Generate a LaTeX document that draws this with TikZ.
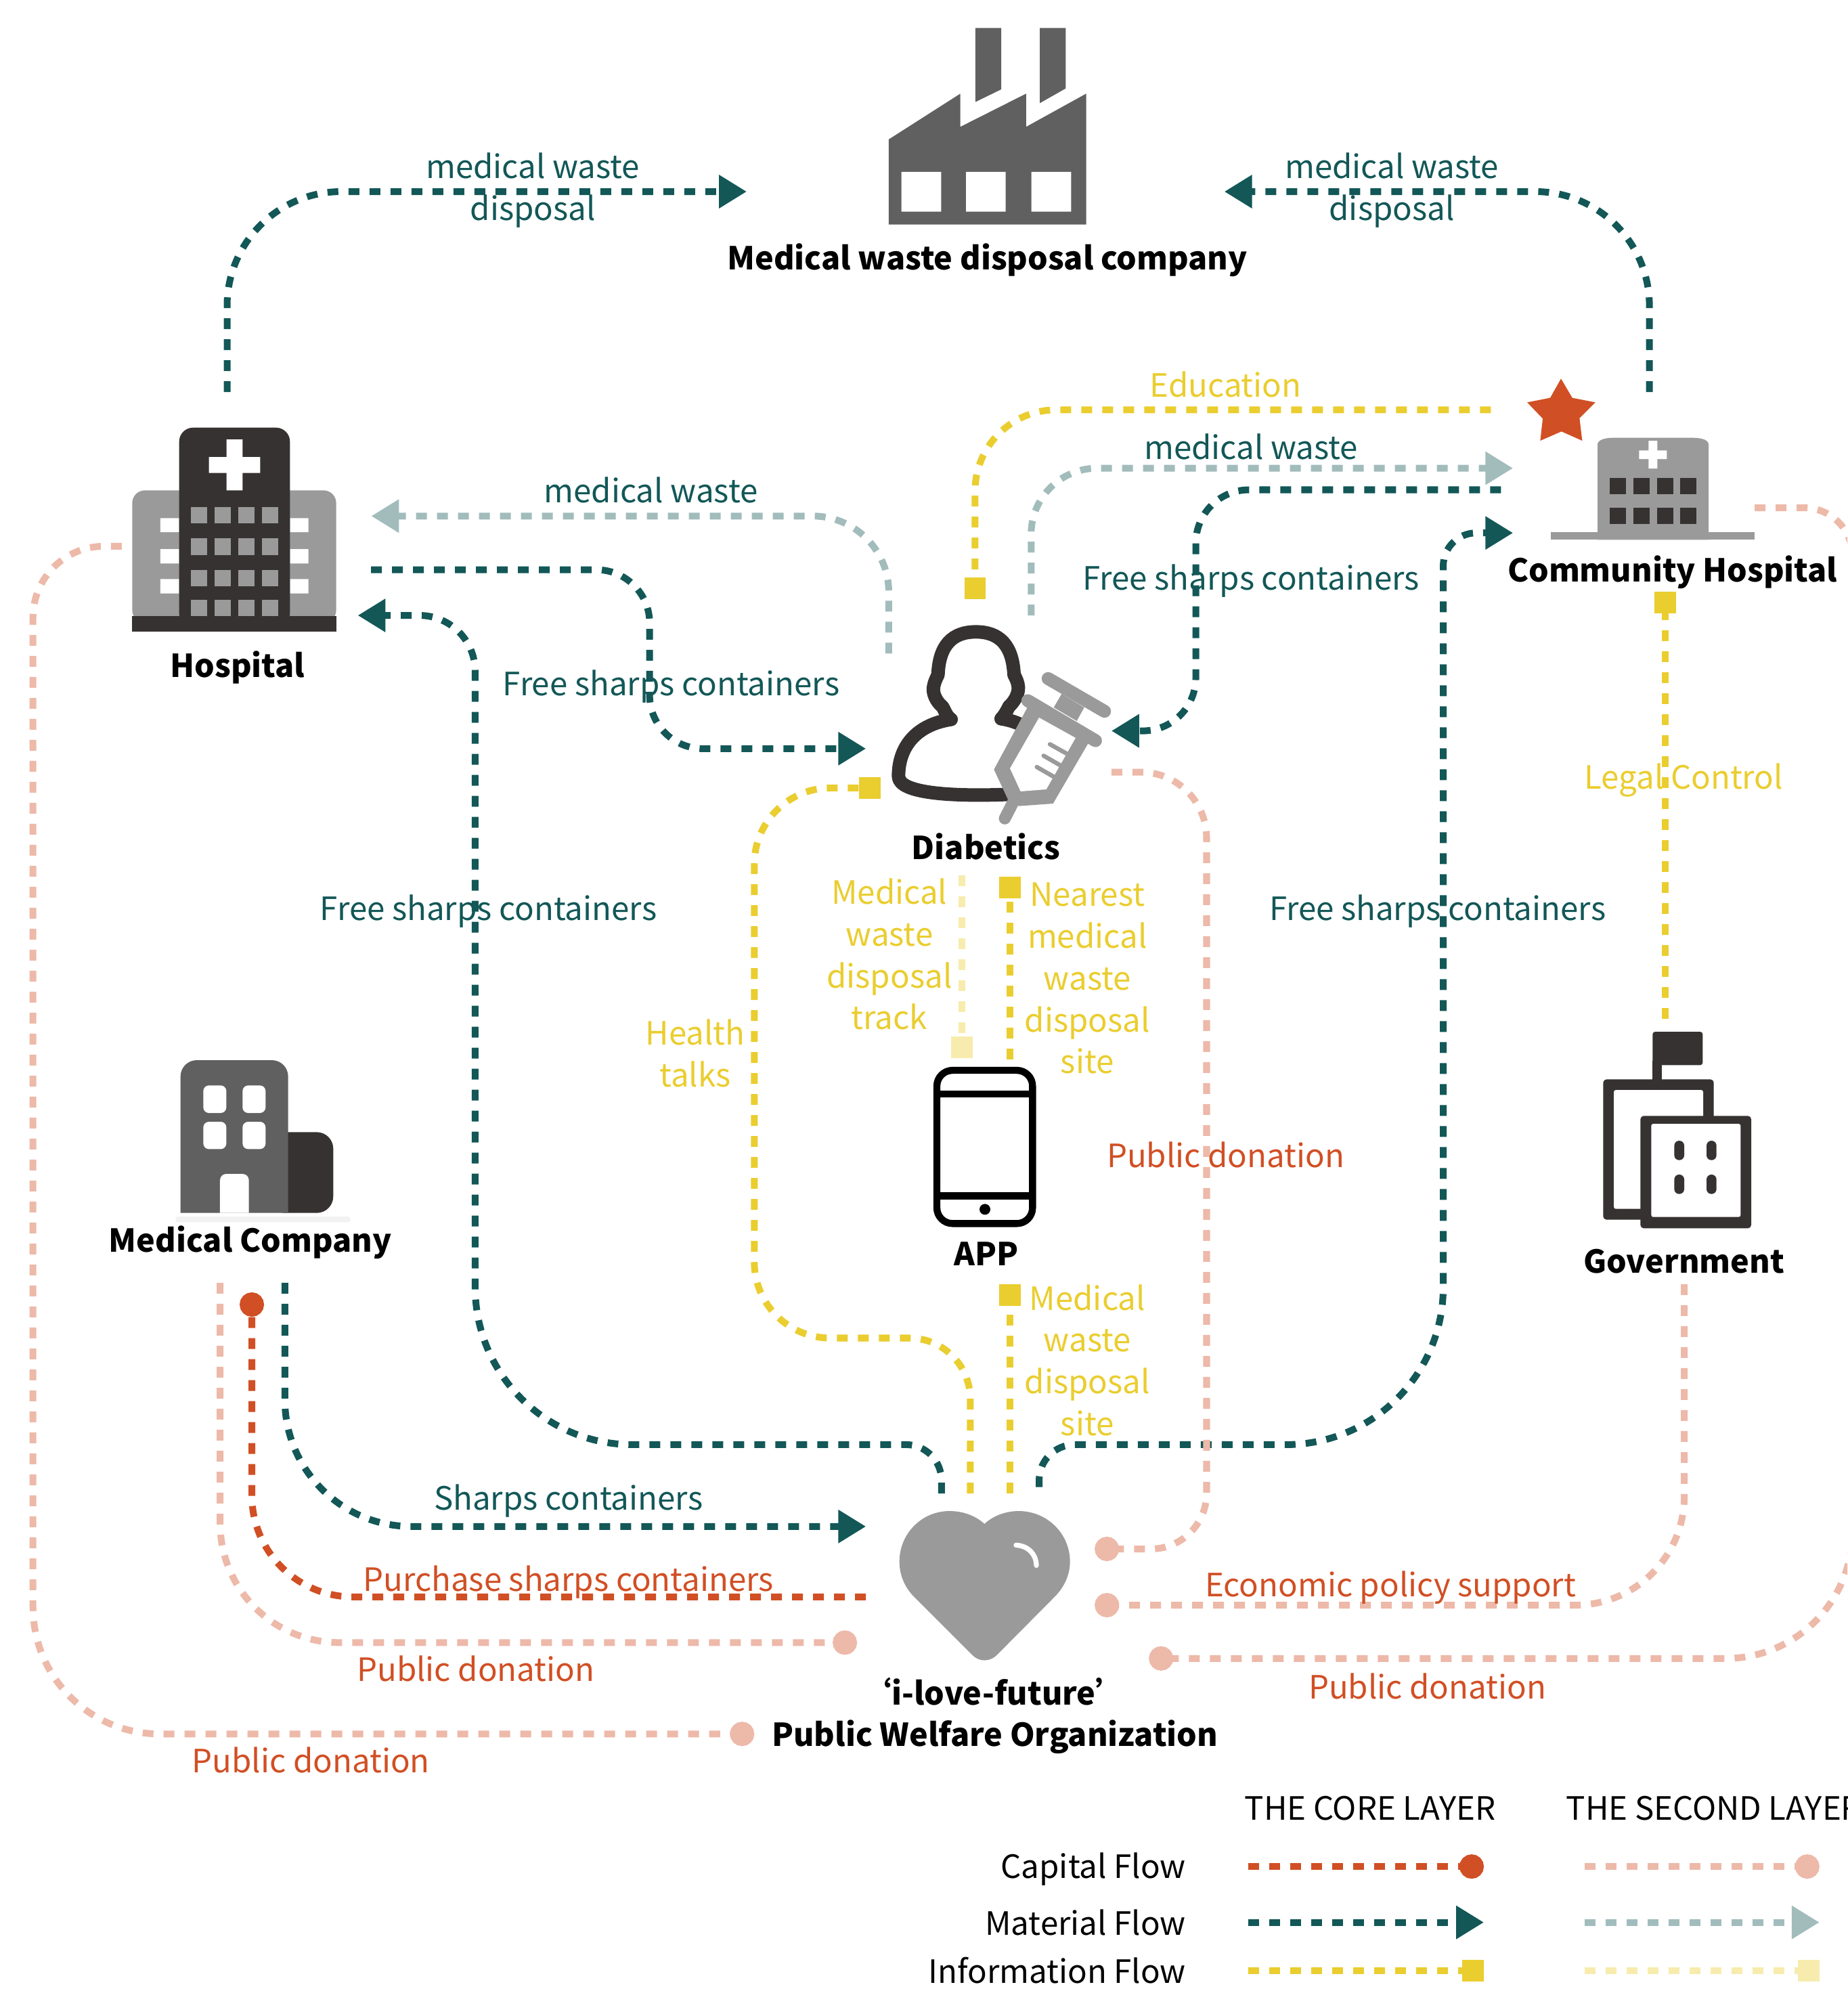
\documentclass[tikz,border=0pt]{standalone}
\usepackage{fontspec}
\setmainfont{Noto Sans CJK SC}
\usetikzlibrary{arrows.meta}
\definecolor{cteal}{HTML}{135757}
\definecolor{lteal}{HTML}{A2BCBC}
\definecolor{cred}{HTML}{D14F24}
\definecolor{lred}{HTML}{EDB9A9}
\definecolor{cyel}{HTML}{EACD2F}
\definecolor{lyel}{HTML}{F7ECAD}
\definecolor{idark}{HTML}{363231}
\definecolor{igrey}{HTML}{9A9A9A}
\definecolor{imid}{HTML}{606060}
\tikzset{
  flow/.style={line width=2.67pt,dash pattern=on 4.27pt off 4pt},
  toarrow/.style={-{Triangle[length=10.9pt,width=12.5pt]}},
  todot/.style={-{Circle[length=9.6pt,width=9.6pt]}},
  tosq/.style={-{Square[length=8.5pt,width=8.5pt]}},
  lab/.style={inner sep=0pt,align=center,xshift=0.5pt,font=\fontsize{12.65pt}{16.5pt}\selectfont},
  ttl/.style={inner sep=0pt,align=center,xshift=0.6pt,font=\fontsize{12.45pt}{16.5pt}\selectfont\bfseries},
  zoomed/.style 2 args={shift={(#1/1.8743,#2/1.8743)},x=0.08892pt,y=-0.08892pt}
}
\begin{document}
\begin{tikzpicture}[x=0.5pt,y=-0.5pt]
\useasboundingbox (0,0) rectangle (1456,1569.1);
\clip (0,0) rectangle (1456,1569.1);

% ---------- icons ----------
% factory
\begin{scope}[zoomed={1250}{0},x=0.10204pt]
\fill[imid] (164,995)--(164,618)--(441,415)--(441,562)--(695,415)--(695,562)--(927,415)--(927,995)--cycle;
\fill[imid] (499,124)--(599,124)--(599,396)--(499,452)--cycle;
\fill[imid] (748,124)--(848,124)--(848,392)--(748,457)--cycle;
\fill[white] (213,762) rectangle (367,938) (463,762) rectangle (616,938) (715,762) rectangle (869,938);
\end{scope}
% hospital
\begin{scope}[zoomed={150}{600}]
\fill[igrey,rounded corners=5pt] (136,960)--(136,373)--(1040,373)--(1040,960)--cycle;
\fill[white] (261,496) rectangle (344,558) (261,633) rectangle (344,697) (261,766) rectangle (344,830);
\fill[white] (835,496) rectangle (917,558) (835,633) rectangle (917,697) (835,766) rectangle (917,830);
\fill[idark,rounded corners=5.5pt] (344,980)--(344,95)--(835,95)--(835,980)--cycle;
\fill[idark] (136,930) rectangle (1040,1000);
\fill[white] (554,147) rectangle (625,373) (476,225) rectangle (703,296);
\foreach \yy/\yb in {446/518,586/659,726/798,858/929}
 \foreach \xx/\xb in {397/468,501/573,606/678,711/783}
  \fill[igrey] (\xx,\yy) rectangle (\xb,\yb);
\end{scope}
% community hospital
\begin{scope}[zoomed={2250}{540}]
\fill[cred] (168,58)--(218,143)--(320,163)--(250,233)--(262,333)--(170,292)--(76,333)--(87,235)--(18,163)--(120,143)--cycle;
\fill[igrey] (330,772)--(330,350) .. controls (330,330) and (360,320) .. (400,320)--(752,320) .. controls (792,320) and (822,330) .. (822,350)--(822,772)--cycle;
\fill[igrey] (123,737) rectangle (1027,772);
\fill[white] (556,333) rectangle (595,456) (514,376) rectangle (637,414);
\foreach \yy/\yb in {498/570,630/702}
 \foreach \xx/\xb in {384/456,489/561,594/666,696/768}
  \fill[idark] (\xx,\yy) rectangle (\xb,\yb);
\end{scope}
% diabetics
\begin{scope}[zoomed={1280}{880}]
\draw[idark,line width=5.33pt,line join=round]
 (640,880) .. controls (400,890) and (142,880) .. (142,800)
 .. controls (142,660) and (230,570) .. (375,548)
 .. controls (350,530) and (345,500) .. (335,490)
 .. controls (310,470) and (290,430) .. (298,400)
 .. controls (302,380) and (310,365) .. (317,350)
 .. controls (322,220) and (380,160) .. (485,160)
 .. controls (590,160) and (648,220) .. (654,350)
 .. controls (662,365) and (672,385) .. (673,405)
 .. controls (675,440) and (650,475) .. (632,490)
 .. controls (622,510) and (612,530) .. (597,545)
 .. controls (630,550) and (670,560) .. (720,590);
\fill[igrey] (716,490)--(565,770)--(628,905)--(677,932)--(827,921)--(985,650)--cycle;
\fill[white] (765,540)--(927,630)--(797,858)--(683,867)--(636,765)--cycle;
\fill[igrey] (865,435)--(965,495)--(932,555)--(830,495)--cycle;
\draw[igrey,line width=5.1pt,line cap=round] (715,465)--(1015,642);
\draw[igrey,line width=5.1pt,line cap=round] (805,367)--(1055,512);
\draw[igrey,line width=4.7pt,line cap=round] (650,915)--(613,987);
\draw[igrey,line width=1.7pt,line cap=round] (813,658)--(888,700) (785,709)--(860,752) (755,759)--(830,802);
\end{scope}
% medical company
\begin{scope}[zoomed={230}{1530}]
\fill[idark,rounded corners=6.5pt] (500,785)--(500,427)--(787,427)--(787,785)--cycle;
\fill[imid] (110,785)--(110,180) arc[start angle=180,end angle=90,x radius=72,y radius=-72] -- (515,108) arc[start angle=90,end angle=0,x radius=72,y radius=-72] -- (587,785)--cycle;
\fill[white,rounded corners=2.2pt] (211,220) rectangle (313,342) (385,220) rectangle (487,342) (211,381) rectangle (313,502) (385,381) rectangle (487,502);
\fill[white] (285,785)--(285,640) arc[start angle=180,end angle=90,x radius=28,y radius=-28] -- (385,612) arc[start angle=90,end angle=0,x radius=28,y radius=-28] -- (413,785)--cycle;
\fill[black!5,rounded corners=1pt] (88,801) rectangle (863,827);
\end{scope}
% government
\begin{scope}[zoomed={2340}{1500}]
\fill[idark,rounded corners=1pt] (304,72) rectangle (526,220);
\fill[idark] (304,200) rectangle (346,300);
\fill[idark,rounded corners=1.3pt] (85,283) rectangle (575,905);
\fill[white,rounded corners=.8pt] (132,330) rectangle (528,857);
\fill[idark,rounded corners=1.3pt] (250,445) rectangle (741,943);
\fill[white,rounded corners=.8pt] (298,480) rectangle (694,893);
\fill[idark,rounded corners=1.9pt] (400,555) rectangle (444,641) (543,555) rectangle (587,641) (400,705) rectangle (444,791) (543,705) rectangle (587,791);
\end{scope}
% app
\begin{scope}[zoomed={1340}{1530}]
\draw[black,line width=2.76pt,rounded corners=6.2pt] (132,153) rectangle (556,832);
\draw[black,line width=2.76pt] (132,258)--(556,258) (132,709)--(556,709);
\fill[black] (345,769) circle[radius=24];
\end{scope}
% heart
\begin{scope}[zoomed={1280}{2180}]
\fill[igrey] (523,213) .. controls (485,178) and (430,156) .. (368,156) .. controls (245,156) and (146,256) .. (146,380) .. controls (146,440) and (170,495) .. (210,535) -- (470,795) .. controls (500,825) and (546,825) .. (577,795) -- (835,535) .. controls (875,495) and (902,440) .. (902,380) .. controls (902,256) and (800,156) .. (675,156) .. controls (615,156) and (560,178) .. (523,213) -- cycle;
\draw[white,line width=1.95pt,line cap=round] (663,307) .. controls (715,310) and (752,345) .. (753,397);
\end{scope}

% ---------- connector ends ----------
\coordinate (hospTop) at (179,309);
\coordinate (compL) at (588.5,151);
\coordinate (chTop) at (1300,309);
\coordinate (compR) at (965,151);
\coordinate (hospOut) at (292.4,449);
\coordinate (diaL) at (682.5,590);
\coordinate (chOut) at (1183,386);
\coordinate (diaR) at (876,576);
\coordinate (orgA) at (742,1177);
\coordinate (hospIn) at (282,485);
\coordinate (orgB) at (819,1172);
\coordinate (chIn) at (1192.5,420);
\coordinate (mcTeal) at (224.5,1011);
\coordinate (orgSharps) at (682.5,1203);
\coordinate (diaTopL) at (700.5,515);
\coordinate (hospMw) at (292.6,406.7);
\coordinate (diaTopR) at (812.7,485);
\coordinate (chMw) at (1192.5,369);
\coordinate (chEdu) at (1175,323);
\coordinate (diaEdu) at (768.5,472);
\coordinate (orgH) at (764.7,1177);
\coordinate (diaH) at (694,621);
\coordinate (gov) at (1312.5,803);
\coordinate (chLegal) at (1312.5,466.3);
\coordinate (diaTrack) at (758,690);
\coordinate (appTrack) at (758,834);
\coordinate (appNear) at (796,835);
\coordinate (diaNear) at (796,691);
\coordinate (orgM) at (796,1177);
\coordinate (appM) at (796,1012);
\coordinate (orgBuy) at (682.5,1258.5);
\coordinate (mcRed) at (198.5,1018.5);
\coordinate (mcDon) at (173.5,1011);
\coordinate (orgD1) at (675.5,1294.5);
\coordinate (hospDon) at (96,430.5);
\coordinate (orgD2) at (594.5,1366.5);
\coordinate (diaDon) at (876,608.5);
\coordinate (orgD3) at (862.8,1220.7);
\coordinate (govDon) at (1327.5,1012);
\coordinate (orgD4) at (862.8,1265);
\coordinate (chDon) at (1383,400.2);
\coordinate (orgD5) at (905.5,1307);

% ---------- connectors ----------
\draw[flow,toarrow,cteal,rounded corners=45pt] (hospTop)--(179,151)--(compL);
\draw[flow,toarrow,cteal,rounded corners=45pt] (chTop)--(1300,151)--(compR);
\draw[flow,toarrow,cteal,rounded corners=21pt] (hospOut)--(512,449)--(512,590)--(diaL);
\draw[flow,toarrow,cteal,rounded corners=21pt] (chOut)--(942.5,386)--(942.5,576)--(diaR);
\draw[flow,toarrow,cteal] (orgA) [rounded corners=14pt] --(742,1138.5) [rounded corners=62pt] --(374.5,1138.5) [rounded corners=22pt] --(374.5,485)--(hospIn);
\draw[flow,toarrow,cteal] (orgB) [rounded corners=14pt] --(819,1138.5) [rounded corners=62pt] --(1137.5,1138.5) [rounded corners=13pt] --(1137.5,420)--(chIn);
\draw[flow,toarrow,cteal,rounded corners=50pt] (mcTeal)--(224.5,1203)--(orgSharps);
\draw[flow,toarrow,lteal,rounded corners=30pt] (diaTopL)--(700.5,406.7)--(hospMw);
\draw[flow,toarrow,lteal,rounded corners=26pt] (diaTopR)--(812.7,369)--(chMw);
\draw[flow,tosq,cyel,rounded corners=32pt] (chEdu)--(768.5,323)--(diaEdu);
\draw[flow,tosq,cyel] (orgH) [rounded corners=24pt] --(764.7,1054.5) [rounded corners=30pt] --(594.5,1054.5) --(594.5,621)--(diaH);
\draw[flow,tosq,cyel] (gov)--(chLegal);
\draw[flow,tosq,lyel] (diaTrack)--(appTrack);
\draw[flow,tosq,cyel] (appNear)--(diaNear);
\draw[flow,tosq,cyel] (orgM)--(appM);
\draw[flow,todot,cred,rounded corners=40pt] (orgBuy)--(198.5,1258.5)--(mcRed);
\draw[flow,todot,lred,rounded corners=47pt] (mcDon)--(173.5,1294.5)--(orgD1);
\draw[flow,todot,lred] (hospDon) [rounded corners=28pt] --(26,430.5) [rounded corners=50pt] --(26,1366.5)--(orgD2);
\draw[flow,todot,lred] (diaDon) [rounded corners=26pt] --(951,608.5) [rounded corners=22pt] --(951,1220.7)--(orgD3);
\draw[flow,todot,lred,rounded corners=43pt] (govDon)--(1327.5,1265)--(orgD4);
\draw[flow,todot,lred] (chDon) [rounded corners=19pt] --(1460,400.2) [rounded corners=50pt] --(1460,1307)--(orgD5);

% ---------- labels ----------
\node[lab,text=cteal] (mw1) at (419,150) {medical waste\\disposal};
\node[lab,text=cteal] (mw2) at (1096,150) {medical waste\\disposal};
\node[ttl] (company) at (777,205) {Medical waste disposal company};
\node[lab,text=cyel] (edu) at (965,303) {Education};
\node[lab,text=cteal] (mw3) at (985,352) {medical waste};
\node[lab,text=cteal] (mw4) at (512,386) {medical waste};
\node[lab,text=cteal] (fs1) at (985,458) {Free sharps containers};
\node[lab,text=cteal] (fs2) at (528,541) {Free sharps containers};
\node[lab,text=cteal] (fs3) at (384,718) {Free sharps containers};
\node[lab,text=cteal] (fs4) at (1132,718) {Free sharps containers};
\node[ttl] (nCH) at (1317,451) {Community Hospital};
\node[ttl] (nH) at (186,526) {Hospital};
\node[ttl] (nD) at (776,667) {Diabetics};
\node[lab,text=cyel] (legal) at (1326,615) {Legal Control};
\node[lab,text=cyel] (track) at (700,752) {Medical\\waste\\disposal\\track};
\node[lab,text=cyel] (near) at (856,771) {Nearest\\medical\\waste\\disposal\\site};
\node[lab,text=cyel] (talks) at (547,830) {Health\\talks};
\node[lab,text=cred] (pd1) at (965,910) {Public donation};
\node[ttl] (nA) at (776,988) {APP};
\node[ttl] (nG) at (1326,994) {Government};
\node[ttl] (nM) at (196,979) {Medical Company};
\node[lab,text=cyel] (site) at (856,1072) {Medical\\waste\\disposal\\site};
\node[lab,text=cteal] (sc) at (447,1183) {Sharps containers};
\node[lab,text=cred] (buy) at (447,1247) {Purchase sharps containers};
\node[lab,text=cred] (eco) at (1095,1251) {Economic policy support};
\node[lab,text=cred] (pd2) at (374,1315) {Public donation};
\node[lab,text=cred] (pd3) at (1124,1329) {Public donation};
\node[lab,text=cred] (pd4) at (244,1387) {Public donation};
\node[ttl] (nO1) at (782,1333) {‘i-love-future’};
\node[ttl] (nO2) at (783,1369) {Public Welfare Organization};

% ---------- legend ----------
\node[lab] (core) at (1079,1425) {THE CORE LAYER};
\node[lab,anchor=west] (second) at (1233,1425) {THE SECOND LAYER};
\node[lab,anchor=east] (l1) at (934,1473) {Capital Flow};
\node[lab,anchor=east] (l2) at (934,1515) {Material Flow};
\node[lab,anchor=east] (l3) at (934,1553) {Information Flow};
\coordinate (a1) at (984,1471); \coordinate (a2) at (1169.5,1471);
\coordinate (b1) at (984,1515); \coordinate (b2) at (1169.5,1515);
\coordinate (c1) at (984,1553); \coordinate (c2) at (1169.5,1553);
\coordinate (d1) at (1249,1471); \coordinate (d2) at (1434,1471);
\coordinate (e1) at (1249,1515); \coordinate (e2) at (1434,1515);
\coordinate (f1) at (1249,1553); \coordinate (f2) at (1434,1553);
\draw[flow,todot,cred] (a1)--(a2);
\draw[flow,toarrow,cteal] (b1)--(b2);
\draw[flow,tosq,cyel] (c1)--(c2);
\draw[flow,todot,lred] (d1)--(d2);
\draw[flow,toarrow,lteal] (e1)--(e2);
\draw[flow,tosq,lyel] (f1)--(f2);
\end{tikzpicture}
\end{document}
